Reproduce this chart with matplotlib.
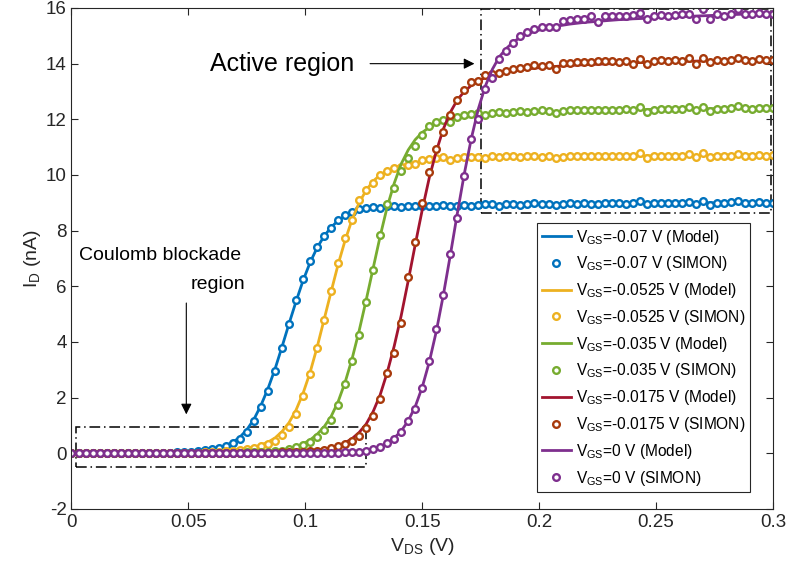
import numpy as np
import matplotlib
matplotlib.use("Agg")
import matplotlib.pyplot as plt
from matplotlib.patches import Rectangle

plt.rcParams['font.family'] = ['Liberation Sans', 'DejaVu Sans']
plt.rcParams['mathtext.fontset'] = 'custom'
plt.rcParams['mathtext.rm'] = 'Liberation Sans'
plt.rcParams['mathtext.it'] = 'Liberation Sans:italic'
plt.rcParams['axes.unicode_minus'] = False

# V_DS sweep, 3 mV step (0 ... 0.3 V)
v_ds = np.linspace(0, 0.3, 101)

vgs_labels = ['-0.07', '-0.0525', '-0.035', '-0.0175', '0']

# I_D in nA, analytical model
model_m0070 = [0, 0, 0, 0, 0, 0, 0, 0, 0, 0,
               0, 0, 0, 0.01, 0.02, 0.03, 0.04, 0.06, 0.08, 0.11,
               0.15, 0.2, 0.28, 0.4, 0.58, 0.85, 1.22, 1.72, 2.32, 3.02,
               3.82, 4.65, 5.45, 6.2, 6.85, 7.38, 7.8, 8.12, 8.36, 8.53,
               8.64, 8.72, 8.77, 8.8, 8.82, 8.84, 8.85, 8.86, 8.87, 8.88,
               8.88, 8.89, 8.89, 8.9, 8.9, 8.91, 8.91, 8.92, 8.92, 8.92,
               8.93, 8.93, 8.93, 8.94, 8.94, 8.94, 8.95, 8.95, 8.95, 8.95,
               8.96, 8.96, 8.96, 8.96, 8.97, 8.97, 8.97, 8.97, 8.97, 8.98,
               8.98, 8.98, 8.98, 8.98, 8.99, 8.99, 8.99, 8.99, 8.99, 8.99,
               9.0, 9.0, 9.0, 9.0, 9.0, 9.0, 9.0, 9.0, 9.0, 9.0, 9.0]
model_m0525 = [0, 0, 0, 0, 0, 0, 0, 0, 0, 0,
               0, 0, 0, 0, 0, 0.01, 0.01, 0.02, 0.02, 0.03,
               0.04, 0.06, 0.08, 0.1, 0.13, 0.17, 0.22, 0.3, 0.4, 0.55,
               0.78, 1.1, 1.55, 2.15, 2.9, 3.8, 4.8, 5.8, 6.78, 7.65,
               8.4, 9.0, 9.45, 9.78, 10.0, 10.15, 10.26, 10.34, 10.4, 10.45,
               10.48, 10.51, 10.53, 10.55, 10.56, 10.57, 10.58, 10.59, 10.6, 10.6,
               10.61, 10.61, 10.62, 10.62, 10.63, 10.63, 10.64, 10.64, 10.64, 10.65,
               10.65, 10.65, 10.66, 10.66, 10.66, 10.67, 10.67, 10.67, 10.68, 10.68,
               10.68, 10.68, 10.69, 10.69, 10.69, 10.69, 10.7, 10.7, 10.7, 10.7,
               10.7, 10.7, 10.71, 10.71, 10.71, 10.71, 10.71, 10.72, 10.72, 10.72, 10.72]
model_m0350 = [0, 0, 0, 0, 0, 0, 0, 0, 0, 0,
               0, 0, 0, 0, 0, 0, 0, 0, 0, 0,
               0, 0.01, 0.01, 0.02, 0.02, 0.03, 0.04, 0.05, 0.07, 0.09,
               0.12, 0.17, 0.24, 0.34, 0.48, 0.68, 0.95, 1.32, 1.85, 2.55,
               3.4, 4.4, 5.5, 6.65, 7.8, 8.85, 9.7, 10.4, 10.9, 11.27,
               11.53, 11.71, 11.84, 11.93, 11.99, 12.03, 12.07, 12.1, 12.13, 12.15,
               12.17, 12.19, 12.2, 12.22, 12.23, 12.24, 12.25, 12.26, 12.27, 12.28,
               12.29, 12.3, 12.3, 12.31, 12.32, 12.32, 12.33, 12.33, 12.34, 12.34,
               12.35, 12.35, 12.35, 12.36, 12.36, 12.37, 12.37, 12.37, 12.38, 12.38,
               12.38, 12.38, 12.39, 12.39, 12.39, 12.39, 12.4, 12.4, 12.4, 12.4, 12.4]
model_m0175 = [0, 0, 0, 0, 0, 0, 0, 0, 0, 0,
               0, 0, 0, 0, 0, 0, 0, 0, 0, 0,
               0, 0, 0, 0, 0.01, 0.01, 0.01, 0.02, 0.02, 0.03,
               0.04, 0.05, 0.06, 0.08, 0.1, 0.12, 0.15, 0.2, 0.28, 0.38,
               0.53, 0.75, 1.05, 1.5, 2.1, 2.9, 3.85, 4.95, 6.2, 7.5,
               8.75, 9.9, 10.85, 11.65, 12.25, 12.7, 13.0, 13.22, 13.38, 13.5,
               13.58, 13.64, 13.7, 13.74, 13.78, 13.81, 13.84, 13.86, 13.88, 13.9,
               13.92, 13.93, 13.95, 13.96, 13.97, 13.98, 13.99, 14.0, 14.01, 14.02,
               14.03, 14.04, 14.04, 14.05, 14.06, 14.07, 14.07, 14.08, 14.09, 14.09,
               14.1, 14.1, 14.11, 14.11, 14.12, 14.12, 14.13, 14.13, 14.14, 14.14, 14.15]
model_0000 = [0, 0, 0, 0, 0, 0, 0, 0, 0, 0,
              0, 0, 0, 0, 0, 0, 0, 0, 0, 0,
              0, 0, 0, 0, 0, 0, 0, 0, 0, 0,
              0, 0, 0.01, 0.01, 0.01, 0.01, 0.02, 0.02, 0.03, 0.04,
              0.05, 0.07, 0.1, 0.16, 0.25, 0.37, 0.55, 0.8, 1.17, 1.68,
              2.38, 3.28, 4.38, 5.68, 7.12, 8.62, 10.05, 11.32, 12.38, 13.2,
              13.8, 14.25, 14.55, 14.78, 14.95, 15.07, 15.16, 15.23, 15.29, 15.34,
              15.38, 15.42, 15.45, 15.48, 15.5, 15.52, 15.54, 15.56, 15.58, 15.59,
              15.61, 15.62, 15.63, 15.65, 15.66, 15.67, 15.68, 15.69, 15.7, 15.71,
              15.72, 15.73, 15.74, 15.75, 15.76, 15.77, 15.78, 15.79, 15.8, 15.81, 15.82]

# I_D in nA, SIMON simulation
simon_m0070 = [0, 0, 0, 0, 0, 0, 0, 0, 0, 0,
               0.01, 0.01, 0.01, 0.01, 0.02, 0.03, 0.04, 0.06, 0.08, 0.11,
               0.14, 0.19, 0.26, 0.36, 0.52, 0.78, 1.15, 1.65, 2.25, 2.95,
               3.8, 4.65, 5.5, 6.25, 6.9, 7.4, 7.8, 8.1, 8.4, 8.58,
               8.68, 8.78, 8.8, 8.84, 8.83, 8.87, 8.88, 8.85, 8.9, 8.88,
               8.9, 8.9, 8.87, 8.92, 8.9, 8.9, 8.93, 8.88, 8.92, 8.94,
               8.95, 8.9, 8.95, 8.97, 8.93, 8.95, 8.98, 8.95, 8.96, 8.93,
               8.97, 8.98, 8.96, 8.99, 8.97, 8.96, 8.99, 8.98, 8.98, 8.97,
               9.0, 9.07, 8.96, 8.99, 9.0, 8.98, 9.01, 9.0, 9.03, 8.97,
               9.08, 8.93, 9.0, 8.98, 9.02, 9.05, 9.0, 8.98, 9.03, 9.0, 9.0]
simon_m0525 = [0, 0, 0, 0, 0, 0, 0, 0, 0, 0,
               0, 0, 0, 0, 0, 0, 0, 0.01, 0.02, 0.03,
               0.04, 0.06, 0.08, 0.1, 0.13, 0.16, 0.2, 0.25, 0.32, 0.45,
               0.65, 0.95, 1.4, 2.05, 2.85, 3.8, 4.8, 5.85, 6.85, 7.75,
               8.4, 9.1, 9.45, 9.7, 10.0, 10.16, 10.25, 10.3, 10.36, 10.4,
               10.54, 10.58, 10.6, 10.63, 10.55, 10.62, 10.65, 10.64, 10.66, 10.6,
               10.68, 10.66, 10.67, 10.7, 10.65, 10.68, 10.7, 10.66, 10.68, 10.62,
               10.66, 10.7, 10.7, 10.68, 10.7, 10.7, 10.68, 10.7, 10.7, 10.68,
               10.7, 10.78, 10.62, 10.68, 10.7, 10.7, 10.68, 10.7, 10.75, 10.63,
               10.8, 10.65, 10.7, 10.68, 10.7, 10.77, 10.7, 10.7, 10.72, 10.7, 10.72]
simon_m0350 = [0, 0, 0, 0, 0, 0, 0, 0, 0, 0,
               0, 0, 0, 0, 0, 0, 0, 0, 0, 0,
               0, 0.01, 0.01, 0.02, 0.02, 0.03, 0.04, 0.05, 0.06, 0.08,
               0.1, 0.15, 0.21, 0.3, 0.42, 0.6, 0.85, 1.2, 1.72, 2.5,
               3.3, 4.25, 5.45, 6.6, 7.85, 8.95, 9.55, 10.15, 10.6, 11.05,
               11.45, 11.75, 11.92, 11.98, 11.9, 12.08, 12.15, 12.2, 12.22, 12.16,
               12.24, 12.25, 12.22, 12.27, 12.3, 12.27, 12.3, 12.32, 12.3, 12.24,
               12.3, 12.32, 12.33, 12.34, 12.35, 12.33, 12.35, 12.35, 12.34, 12.36,
               12.35, 12.45, 12.28, 12.35, 12.36, 12.37, 12.36, 12.38, 12.45, 12.33,
               12.45, 12.3, 12.38, 12.37, 12.4, 12.47, 12.4, 12.38, 12.42, 12.4, 12.4]
simon_m0175 = [0, 0, 0, 0, 0, 0, 0, 0, 0, 0,
               0, 0, 0, 0, 0, 0, 0, 0, 0, 0,
               0, 0, 0, 0, 0, 0, 0.01, 0.01, 0.02, 0.02,
               0.03, 0.04, 0.05, 0.06, 0.08, 0.1, 0.13, 0.18, 0.25, 0.33,
               0.45, 0.63, 0.9, 1.35, 1.95, 2.9, 3.6, 4.7, 6.35, 7.6,
               9.0, 10.1, 10.95, 11.55, 12.15, 12.7, 13.05, 13.35, 13.38, 13.6,
               13.63, 13.68, 13.74, 13.8, 13.85, 13.88, 13.95, 13.92, 13.95, 13.82,
               14.03, 14.03, 14.05, 14.05, 14.07, 14.1, 14.08, 14.1, 14.05, 14.1,
               13.98, 14.15, 13.97, 14.1, 14.12, 14.08, 14.12, 14.1, 14.22, 14.0,
               14.2, 14.05, 14.12, 14.1, 14.12, 14.2, 14.12, 14.1, 14.15, 14.12, 14.12]
simon_0000 = [0, 0, 0, 0, 0, 0, 0, 0, 0, 0,
              0, 0, 0, 0, 0, 0, 0, 0, 0, 0,
              0, 0, 0, 0, 0, 0, 0, 0, 0, 0,
              0, 0.01, 0.01, 0.01, 0.01, 0.01, 0.01, 0.02, 0.02, 0.03,
              0.03, 0.05, 0.08, 0.15, 0.24, 0.36, 0.51, 0.75, 1.15, 1.6,
              2.35, 3.3, 4.45, 5.7, 7.15, 8.45, 9.95, 11.3, 12.0, 13.1,
              13.5, 14.15, 14.45, 14.75, 15.0, 15.15, 15.25, 15.3, 15.33, 15.33,
              15.52, 15.58, 15.6, 15.62, 15.72, 15.5, 15.7, 15.72, 15.72, 15.73,
              15.75, 15.82, 15.6, 15.73, 15.75, 15.72, 15.75, 15.78, 15.8, 15.62,
              15.98, 15.62, 15.78, 15.72, 15.78, 15.98, 15.8, 15.78, 15.83, 15.8, 15.8]

models = [model_m0070, model_m0525, model_m0350, model_m0175, model_0000]
simons = [simon_m0070, simon_m0525, simon_m0350, simon_m0175, simon_0000]
line_colors = ['#0072BD', '#EDB120', '#77AC30', '#A2142F', '#7E2F8E']
marker_colors = ['#0072BD', '#EDB120', '#77AC30', '#A83A0C', '#7E2F8E']

fig = plt.figure(figsize=(7.9, 5.79), dpi=100)
ax = fig.add_axes([0.0905, 0.1209, 0.888, 0.8653])

for vgs, mod, sim, lc, mc in zip(vgs_labels, models, simons, line_colors, marker_colors):
    ax.plot(v_ds, mod, '-', color=lc, lw=2.0,
            label=r'V$_{\mathrm{GS}}$=' + vgs + ' V (Model)')
    ax.plot(v_ds, sim, 'o', color=mc, ms=4.8, mew=1.7, mfc='white',
            label=r'V$_{\mathrm{GS}}$=' + vgs + ' V (SIMON)')

# marked regions
ax.add_patch(Rectangle((0.175, 8.65), 0.124, 7.3, fill=False, ec='k',
                       lw=1.1, ls=(0, (7, 2.5, 1, 2.5))))
ax.add_patch(Rectangle((0.002, -0.5), 0.124, 1.45, fill=False, ec='k',
                       lw=1.1, ls=(0, (7, 2.5, 1, 2.5))))

ax.text(0.0592, 14.0, 'Active region', fontsize=18, ha='left', va='center')
ax.annotate('', xy=(0.1735, 14.0), xytext=(0.1265, 14.0),
            arrowprops=dict(arrowstyle='-|>', color='k', lw=0.8, mutation_scale=16))

ax.text(0.0378, 7.1, 'Coulomb blockade', fontsize=14, ha='center', va='center')
ax.text(0.0626, 6.05, 'region', fontsize=14, ha='center', va='center')
ax.annotate('', xy=(0.0491, 1.3), xytext=(0.0491, 5.5),
            arrowprops=dict(arrowstyle='-|>', color='k', lw=0.8, mutation_scale=16))

ax.set_xlim(0, 0.3)
ax.set_ylim(-2, 16)
ax.set_xticks([0, 0.05, 0.1, 0.15, 0.2, 0.25, 0.3])
ax.set_xticklabels(['0', '0.05', '0.1', '0.15', '0.2', '0.25', '0.3'])
ax.set_yticks(np.arange(-2, 17, 2))
ax.tick_params(direction='in', top=True, right=True, length=5, width=0.8,
               labelsize=13.5, colors='#262626', labelcolor='#262626')
for s in ax.spines.values():
    s.set_color('#262626')
    s.set_linewidth(0.8)

ax.set_xlabel(r'V$_{\mathrm{DS}}$ (V)', fontsize=14, color='#262626', labelpad=4)
ax.set_ylabel(r'I$_{\mathrm{D}}$ (nA)', fontsize=14, color='#262626', labelpad=2)

leg = ax.legend(loc='upper left', bbox_to_anchor=(0.6636, 0.571), fontsize=11.2,
                numpoints=1, handlelength=1.9, handletextpad=0.3,
                labelspacing=0.5, borderpad=0.3, borderaxespad=0,
                fancybox=False, framealpha=1, edgecolor='#262626')
leg.get_frame().set_linewidth(0.8)

fig.savefig('out.png', dpi=100)
